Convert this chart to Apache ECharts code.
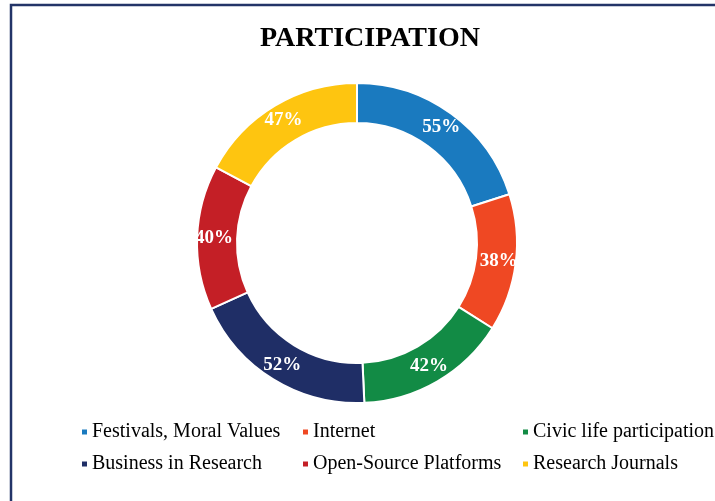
<!DOCTYPE html>
<html>
<head>
<meta charset="utf-8">
<script src="https://cdn.jsdelivr.net/npm/echarts@6/dist/echarts.min.js"></script>
<style>
  html, body { margin: 0; padding: 0; background: #fff; }
  #chart { width: 715px; height: 501px; }
</style>
</head>
<body>
<div id="chart"></div>
<script>
const categories = [
  'Festivals, Moral Values', 'Internet', 'Civic life participation',
  'Business in Research', 'Open-Source Platforms', 'Research Journals'
]
const values = [55, 38, 42, 52, 40, 47]
const colors = ['#1a7abf', '#ef4823', '#128b45', '#1f2e66', '#c41f26', '#fec510']

// legend is laid out as 3 columns of 2 rows
const legendColumns = [
  [categories[0], categories[3]],
  [categories[1], categories[4]],
  [categories[2], categories[5]]
]
const legendLeft = [80, 301, 521]

const chart = echarts.init(document.getElementById('chart'))

const serif = '"Liberation Serif", "DejaVu Serif", serif'

chart.setOption({
  title: {
    text: 'PARTICIPATION',
    left: 260,
    top: 25,
    padding: 0,
    textStyle: { fontFamily: serif, fontWeight: 'bold', fontSize: 28, color: '#000' }
  },
  graphic: [{
    type: 'rect',
    shape: { x: 11, y: 5, width: 800, height: 600 },
    style: { fill: 'none', stroke: '#233468', lineWidth: 2.5 },
    silent: true
  }],
  legend: legendColumns.map((col, i) => ({
    data: col,
    orient: 'vertical',
    left: legendLeft[i],
    top: 422,
    padding: 0,
    itemGap: 12,
    itemWidth: 7,
    itemHeight: 7,
    icon: 'rect',
    selectedMode: false,
    textStyle: { fontFamily: serif, fontSize: 20, color: '#000', padding: [0, 0, 0, -1] }
  })),
  series: [{
    type: 'pie',
    center: [357, 243],
    radius: [120, 160],
    startAngle: 90,
    avoidLabelOverlap: false,
    itemStyle: { borderColor: '#fff', borderWidth: 2 },
    label: {
      position: 'inside',
      formatter: '{c}%',
      color: '#fff',
      fontFamily: serif,
      fontWeight: 'bold',
      fontSize: 19
    },
    labelLine: { show: false },
    emphasis: { disabled: true },
    data: categories.map((name, i) => ({
      name: name,
      value: values[i],
      itemStyle: { color: colors[i] }
    }))
  }]
})
</script>
</body>
</html>
